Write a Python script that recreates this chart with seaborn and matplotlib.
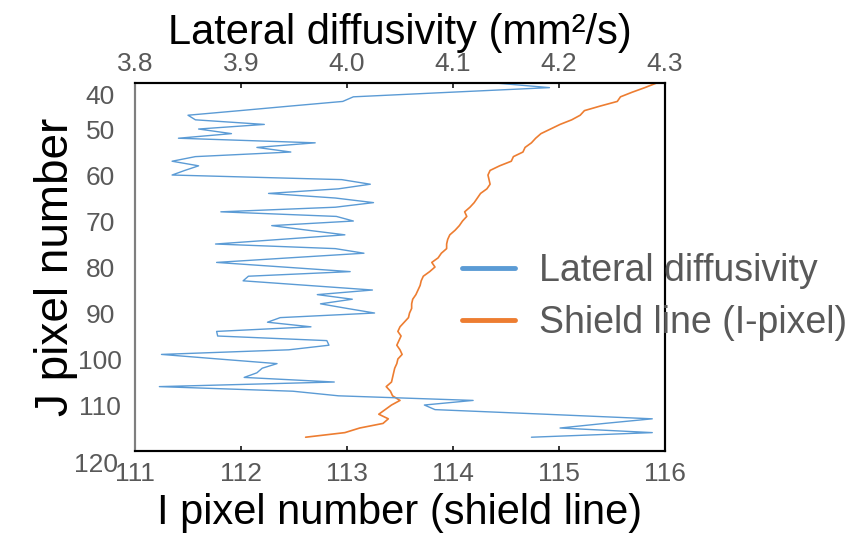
import numpy as np
import pandas as pd
import matplotlib
matplotlib.use("Agg")
import matplotlib.pyplot as plt
import matplotlib.transforms as mtransforms
from matplotlib import font_manager
import seaborn as sns

# J pixel rows (vertical axis)
j_pixel = list(range(40, 118))

# lateral diffusivity (mm2/s), one value per J row
diffusivity = [
    4.140, 4.191, 4.098, 4.006, 3.996, 3.947, 3.899, 3.850, 3.857, 3.922,
    3.860, 3.891, 3.841, 3.970, 3.915, 3.947, 3.857, 3.835, 3.860, 3.847,
    3.835, 3.995, 4.022, 3.992, 3.926, 3.989, 4.025, 3.989, 3.881, 3.990,
    4.006, 3.929, 3.963, 3.998, 3.937, 3.876, 3.989, 4.016, 3.946, 3.877,
    3.940, 4.003, 3.907, 3.902, 3.963, 4.024, 3.972, 4.005, 3.975, 4.000,
    4.026, 3.937, 3.925, 3.966, 3.877, 3.878, 3.981, 3.983, 3.945, 3.825,
    3.879, 3.934, 3.920, 3.915, 3.903, 3.988, 3.823, 3.949, 3.992, 4.119,
    4.073, 4.083, 4.187, 4.288, 4.243, 4.201, 4.288, 4.174,
]

# shield line position (I pixel) per J row
shield_i = [
    115.92, 115.81, 115.69, 115.58, 115.55, 115.39, 115.24, 115.20, 115.12, 115.01,
    114.92, 114.83, 114.78, 114.74, 114.68, 114.66, 114.57, 114.55, 114.44, 114.35,
    114.33, 114.34, 114.35, 114.32, 114.26, 114.23, 114.20, 114.16, 114.11, 114.13,
    114.09, 114.06, 114.02, 113.97, 113.95, 113.94, 113.94, 113.89, 113.86, 113.80,
    113.83, 113.78, 113.72, 113.70, 113.69, 113.67, 113.65, 113.62, 113.61, 113.61,
    113.59, 113.58, 113.54, 113.50, 113.48, 113.51, 113.49, 113.47, 113.50, 113.52,
    113.48, 113.47, 113.45, 113.44, 113.43, 113.42, 113.37, 113.41, 113.43, 113.50,
    113.42, 113.36, 113.30, 113.39, 113.34, 113.12, 112.98, 112.61,
]

top_ticks = [3.8, 3.9, 4.0, 4.1, 4.2, 4.3]
bottom_ticks = [111, 112, 113, 114, 115, 116]
y_ticks = [40, 50, 60, 70, 80, 90, 100, 110, 120]

BLUE = "#5B9BD5"
ORANGE = "#ED7D31"
GRAY = "#595959"

sns.set_style("white")
installed = {f.name for f in font_manager.fontManager.ttflist}
narrow = "Liberation Sans Narrow" if "Liberation Sans Narrow" in installed else "Liberation Sans"
plt.rcParams["font.family"] = ["Liberation Sans", "DejaVu Sans"]

df = pd.DataFrame({"J": j_pixel, "diff": diffusivity, "I": shield_i})

fig = plt.figure(figsize=(8.67, 5.43), dpi=100)
ax = fig.add_axes([0.1557, 0.1694, 0.6113, 0.6777])
ax2 = ax.twiny()

sns.lineplot(data=df, x="I", y="J", ax=ax, sort=False, estimator=None,
             color=ORANGE, linewidth=1.2, label="Shield line (I-pixel)", legend=False)
sns.lineplot(data=df, x="diff", y="J", ax=ax2, sort=False, estimator=None,
             color=BLUE, linewidth=1.0, label="Lateral diffusivity", legend=False)

ax.set_xlim(111, 116)
ax2.set_xlim(3.8, 4.3)
ax.set_ylim(120, 40)
ax.set_xticks(bottom_ticks)
ax.set_xticklabels([str(t) for t in bottom_ticks])
ax2.set_xticks(top_ticks)
ax2.set_xticklabels([f"{t:.1f}" for t in top_ticks])
ax.set_yticks(y_ticks)
ax.set_yticklabels([str(t) for t in y_ticks])

for a in (ax, ax2):
    for s in a.spines.values():
        s.set_color("black")
        s.set_linewidth(1.5)
    a.spines["left"].set_color("#7f7f7f")

ax.tick_params(axis="x", direction="in", length=3.5, width=1.1, color="black",
               labelsize=19, labelcolor=GRAY, pad=8, top=False)
ax2.tick_params(axis="x", direction="in", length=3.5, width=1.1, color="black",
                labelsize=19, labelcolor=GRAY, pad=5, bottom=False)
ax.tick_params(axis="y", direction="in", length=7, width=1.5, color="black",
               labelsize=19, labelcolor=GRAY, pad=25, right=False)
for lab in ax.get_xticklabels() + ax2.get_xticklabels() + ax.get_yticklabels():
    lab.set_family([narrow, "DejaVu Sans"])
for lab in ax.get_yticklabels():
    lab.set_horizontalalignment("center")

# end labels on the J axis sit a little lower than their ticks
ticks = ax.yaxis.get_major_ticks()
shift_top = mtransforms.ScaledTranslation(0, -11 / 100, fig.dpi_scale_trans)
shift_bot = mtransforms.ScaledTranslation(-4 / 100, -11 / 100, fig.dpi_scale_trans)
ticks[0].label1.set_transform(ticks[0].label1.get_transform() + shift_top)
ticks[-1].label1.set_transform(ticks[-1].label1.get_transform() + shift_bot)

ax.set_ylabel("J pixel number", fontsize=33, color="black", labelpad=-3)
ax.set_xlabel("I pixel number (shield line)", fontsize=30, color="black",
              family=[narrow, "DejaVu Sans"], labelpad=5)
ax2.set_xlabel("Lateral diffusivity (mm\u00b2/s)", fontsize=30, color="black",
               family=[narrow, "DejaVu Sans"], labelpad=6)

h1, l1 = ax2.get_legend_handles_labels()
h2, l2 = ax.get_legend_handles_labels()
leg = fig.legend(h1 + h2, l1 + l2, loc="center left", bbox_to_anchor=(0.533, 0.453),
                 frameon=False, fontsize=27, handlelength=1.4, handletextpad=0.64,
                 labelspacing=0.42, borderpad=0, borderaxespad=0)
for line in leg.get_lines():
    line.set_linewidth(3.5)
    line.set_solid_capstyle("round")
for txt in leg.get_texts():
    txt.set_color(GRAY)

fig.savefig("out.png", dpi=100)
